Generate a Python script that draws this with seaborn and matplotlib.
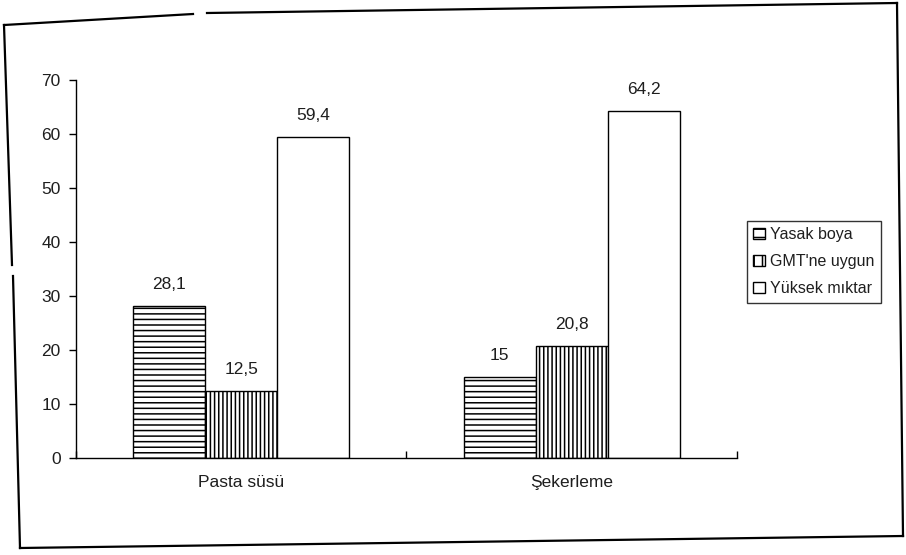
import matplotlib
matplotlib.use("Agg")
import matplotlib.pyplot as plt
from matplotlib.lines import Line2D
import seaborn as sns
import pandas as pd

# Data
categories = ["Pasta süsü", "Şekerleme"]
series_names = ["Yasak boya", "GMT'ne uygun", "Yüksek mıktar"]
yasak_boya = [28.1, 15.0]
gmt_uygun = [12.5, 20.8]
yuksek_miktar = [59.4, 64.2]
y_ticks = [0, 10, 20, 30, 40, 50, 60, 70]

hatches = ["---", "||||", ""]

sns.set_theme(style="white")
plt.rcParams["font.family"] = ["Liberation Sans", "DejaVu Sans"]
plt.rcParams["hatch.linewidth"] = 1.1
plt.rcParams["hatch.color"] = "black"

df = pd.DataFrame({
    "kategori": categories * 3,
    "seri": [s for s in series_names for _ in categories],
    "deger": yasak_boya + gmt_uygun + yuksek_miktar,
})

W, H = 906, 555
TXT = "#1e1e1e"
fig = plt.figure(figsize=(W / 100, H / 100), dpi=100)
fig.patch.set_facecolor("white")
ax = fig.add_axes([76 / W, 1 - 458 / H, (737 - 76) / W, (458 - 80) / H])

sns.barplot(data=df, x="kategori", y="deger", hue="seri", order=categories,
            hue_order=series_names, palette=["white"] * 3, width=0.655,
            gap=0, edgecolor="black", linewidth=1.0, errorbar=None,
            saturation=1, ax=ax, legend=False)

for cont, h in zip(ax.containers, hatches):
    for bar in cont:
        bar.set_hatch(h)
        bar.set_facecolor("white")
        bar.set_edgecolor("black")
    labels = [f"{v:g}".replace(".", ",") for v in cont.datavalues]
    ax.bar_label(cont, labels=labels, padding=10, fontsize=12.5, color=TXT)

ax.set_xlim(-0.5, 1.5)
ax.set_ylim(0, 70)
ax.set_yticks(y_ticks)
ax.set_xlabel("")
ax.set_ylabel("")
ax.tick_params(axis="y", direction="out", length=5, width=1, colors="black",
               labelsize=12.5, labelcolor=TXT, pad=6, left=True)
ax.set_xticks([0, 1])
ax.set_xticklabels(categories)
ax.set_xticks([-0.5, 0.5, 1.5], minor=True)
ax.tick_params(axis="x", which="major", length=0, labelsize=12.5,
               labelcolor=TXT, pad=12)
ax.tick_params(axis="x", which="minor", direction="in", length=5, width=1,
               colors="black", bottom=True)
for side in ["top", "right"]:
    ax.spines[side].set_visible(False)
for side in ["left", "bottom"]:
    ax.spines[side].set_color("black")
    ax.spines[side].set_linewidth(1.0)
ax.grid(False)

# Legend with small hatched squares
handles = [plt.Rectangle((0, 0), 1, 1, facecolor="white", edgecolor="black",
                         hatch=h, linewidth=1.0) for h in ["--", "||", ""]]
leg = fig.legend(handles, series_names, loc="upper left",
                 bbox_to_anchor=(747 / W, 1 - 221 / H),
                 bbox_transform=fig.transFigure, frameon=True, fancybox=False,
                 edgecolor="black", fontsize=11.5, handlelength=0.7,
                 handleheight=0.7, handletextpad=0.35, labelspacing=0.75,
                 borderpad=0.4, borderaxespad=0)
leg.get_frame().set_linewidth(1.0)
for t in leg.get_texts():
    t.set_color(TXT)

# Outer chart border
def border(x0, y0, x1, y1):
    fig.add_artist(Line2D([x0 / W, x1 / W], [1 - y0 / H, 1 - y1 / H],
                          transform=fig.transFigure, color="black",
                          linewidth=1.6, solid_capstyle="projecting"))

border(4, 25, 193, 14)
border(207, 13, 897, 3)
border(897, 3, 903, 536)
border(4, 25, 12, 265)
border(13, 276, 20, 548)
border(20, 548, 903, 536)

fig.savefig("out.png", dpi=100, facecolor="white")
